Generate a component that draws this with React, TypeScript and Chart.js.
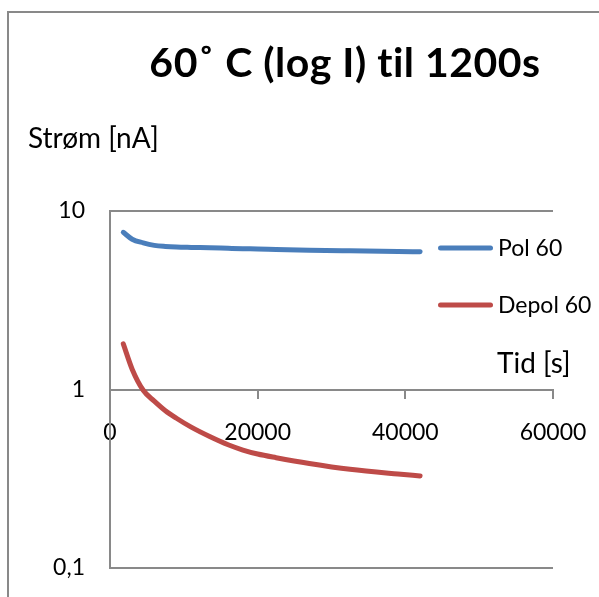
import { useEffect, useRef } from "react";
import { Chart, registerables } from "chart.js";

Chart.register(...registerables);

// Labels
const chartTitle = "60˚ C (log I) til 1200s";
const yAxisTitle = "Strøm [nA]";
const xAxisTitle = "Tid [s]";
const seriesNames = ["Pol 60", "Depol 60"];

// Measurement time in seconds (shared by both series)
const timeSeconds = [
  1800, 3000, 4500, 6000, 7500, 9000, 11000, 13500, 16000, 18000, 20000, 22500, 27000, 32500,
  39000, 42000,
];

// Current in nA
const polCurrent = [
  7.6, 6.95, 6.63, 6.42, 6.33, 6.28, 6.25, 6.22, 6.18, 6.15, 6.13, 6.09, 6.03, 5.98, 5.93, 5.91,
];
const depolCurrent = [
  1.8, 1.3, 0.99, 0.86, 0.76, 0.69, 0.615, 0.545, 0.49, 0.458, 0.435, 0.415, 0.385, 0.357, 0.336,
  0.328,
];

// Axis ticks
const yTickValues = [0.1, 1, 10];
const xMin = 0;
const xMax = 60000;
const xStep = 20000;

const seriesColors = ["#4A7EBB", "#BE4B48"];
const axisGray = "#898989";
const FONT = "Lato";

// scales keep their label overhang out of the layout so the plot box stays put
const noOverhang = (scale: any) => {
  scale.paddingLeft = 0;
  scale.paddingRight = 0;
  scale.paddingTop = 0;
  scale.paddingBottom = 0;
};

const decorations = {
  id: "decorations",
  beforeDraw(chart: any) {
    const { ctx, width, height } = chart;
    ctx.save();
    ctx.fillStyle = "#ffffff";
    ctx.fillRect(0, 0, width, height);
    ctx.restore();
  },
  afterDraw(chart: any) {
    const { ctx, width, height } = chart;
    ctx.save();

    // outer frame (left and top edges)
    ctx.strokeStyle = axisGray;
    ctx.lineWidth = 2;
    ctx.beginPath();
    ctx.moveTo(8, height);
    ctx.lineTo(8, 12);
    ctx.lineTo(width, 12);
    ctx.stroke();

    ctx.fillStyle = "#000000";
    ctx.textBaseline = "alphabetic";

    // title
    ctx.font = `bold 41px ${FONT}`;
    ctx.textAlign = "center";
    (ctx as any).letterSpacing = "0.5px";
    ctx.fillText(chartTitle, 345, 77);
    (ctx as any).letterSpacing = "0px";

    // axis titles
    ctx.font = `28px ${FONT}`;
    ctx.textAlign = "left";
    ctx.fillText(yAxisTitle, 28, 148);
    ctx.fillText(xAxisTitle, 497, 373);

    // legend
    const rows = [248, 305];
    chart.data.datasets.forEach((ds: any, i: number) => {
      const y = rows[i];
      ctx.strokeStyle = ds.borderColor;
      ctx.lineWidth = 5;
      ctx.lineCap = "round";
      ctx.beginPath();
      ctx.moveTo(440.5, y);
      ctx.lineTo(490.5, y);
      ctx.stroke();
      ctx.fillStyle = "#000000";
      ctx.font = `23px ${FONT}`;
      ctx.textAlign = "left";
      ctx.fillText(ds.label, 498, y + 8);
    });

    ctx.restore();
  },
};

export default function App() {
  const canvasRef = useRef<HTMLCanvasElement | null>(null);

  useEffect(() => {
    if (!canvasRef.current) return;
    const tickFont = { family: FONT, size: 23 };

    const chart = new Chart(canvasRef.current, {
      type: "line",
      data: {
        datasets: [
          {
            label: seriesNames[0],
            data: timeSeconds.map((t, i) => ({ x: t, y: polCurrent[i] })),
            borderColor: seriesColors[0],
            backgroundColor: seriesColors[0],
            borderWidth: 5,
            borderCapStyle: "round",
            borderJoinStyle: "round",
            pointRadius: 0,
            cubicInterpolationMode: "monotone",
            fill: false,
          },
          {
            label: seriesNames[1],
            data: timeSeconds.map((t, i) => ({ x: t, y: depolCurrent[i] })),
            borderColor: seriesColors[1],
            backgroundColor: seriesColors[1],
            borderWidth: 5,
            borderCapStyle: "round",
            borderJoinStyle: "round",
            pointRadius: 0,
            cubicInterpolationMode: "monotone",
            fill: false,
          },
        ],
      },
      options: {
        responsive: false,
        maintainAspectRatio: false,
        animation: false,
        layout: { padding: { top: 211, right: 46, bottom: 29, left: 0 } },
        plugins: {
          legend: { display: false },
          title: { display: false },
          tooltip: { enabled: false },
        },
        scales: {
          x: {
            type: "linear",
            min: xMin,
            max: xMax,
            position: { y: 1 } as any,
            afterFit: noOverhang,
            ticks: {
              stepSize: xStep,
              font: tickFont,
              color: "#000000",
              padding: 21,
              maxRotation: 0,
              callback: (v: any) => String(v),
            },
            grid: {
              drawOnChartArea: false,
              drawTicks: true,
              tickLength: 8,
              color: axisGray,
              lineWidth: 2,
            },
            border: { display: true, color: axisGray, width: 2 },
          },
          y: {
            type: "logarithmic",
            position: "left",
            min: yTickValues[0],
            max: yTickValues[yTickValues.length - 1],
            afterBuildTicks: (scale: any) => {
              scale.ticks = yTickValues.map((v) => ({ value: v }));
            },
            afterFit: (scale: any) => {
              scale.width = 110;
              noOverhang(scale);
            },
            ticks: {
              font: tickFont,
              color: "#000000",
              padding: 25,
              callback: (v: any) => String(v).replace(".", ","),
            },
            grid: { color: axisGray, lineWidth: 2, drawTicks: false },
            border: { display: true, color: axisGray, width: 2 },
          },
        },
      },
      plugins: [decorations],
    });

    return () => chart.destroy();
  }, []);

  return (
    <div style={{ position: "fixed", left: 0, top: 0, width: 599, height: 597 }}>
      <canvas ref={canvasRef} width={599} height={597} />
    </div>
  );
}
